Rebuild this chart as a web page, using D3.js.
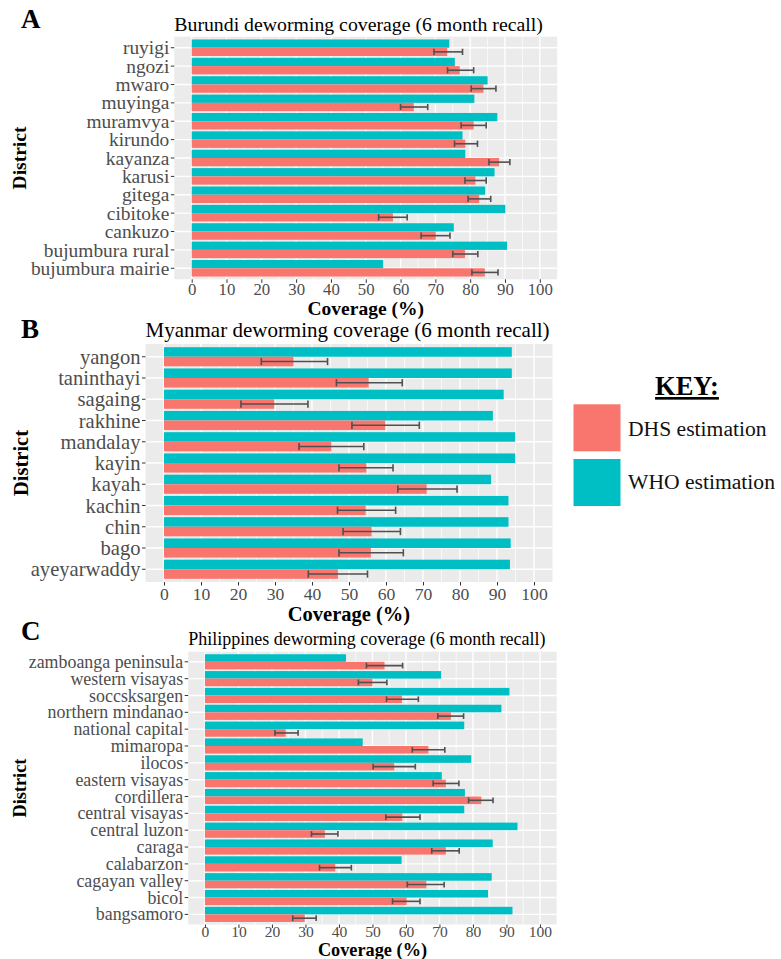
<!DOCTYPE html>
<html>
<head>
<meta charset="utf-8">
<script src="https://cdn.jsdelivr.net/npm/d3@7"></script>
<style>
  body { margin: 0; background: #fff; }
  svg { display: block; }
  text { font-family: "Liberation Serif", "Times New Roman", serif; }
</style>
</head>
<body>
<div id="chart"></div>
<script>
  'use strict';

  // ---- data ----
  var xTicks = [0, 10, 20, 30, 40, 50, 60, 70, 80, 90, 100];
  var seriesNames = ['DHS estimation', 'WHO estimation'];

  var burundiDistricts = ['ruyigi', 'ngozi', 'mwaro', 'muyinga', 'muramvya', 'kirundo', 'kayanza',
    'karusi', 'gitega', 'cibitoke', 'cankuzo', 'bujumbura rural', 'bujumbura mairie'];
  var burundiWHO = [74.0, 75.6, 85.0, 81.2, 87.8, 77.8, 78.6, 87.0, 84.3, 90.1, 75.3, 90.6, 55.0];
  var burundiDHS = [73.4, 77.0, 83.8, 63.8, 81.0, 78.6, 88.3, 81.5, 82.6, 57.8, 70.1, 78.5, 84.2];
  var burundiLow = [69.6, 73.5, 80.3, 60.0, 77.4, 75.5, 85.4, 78.5, 79.4, 53.7, 65.9, 75.0, 80.5];
  var burundiHigh = [77.8, 81.0, 87.4, 67.8, 84.6, 82.1, 91.4, 84.6, 85.9, 61.9, 74.2, 82.2, 88.0];

  var myanmarDistricts = ['yangon', 'taninthayi', 'sagaing', 'rakhine', 'mandalay', 'kayin', 'kayah',
    'kachin', 'chin', 'bago', 'ayeyarwaddy'];
  var myanmarWHO = [94.0, 94.0, 91.8, 88.9, 94.9, 94.9, 88.4, 93.1, 93.1, 93.7, 93.5];
  var myanmarDHS = [35.0, 55.3, 29.8, 59.8, 45.2, 54.7, 71.0, 54.5, 56.1, 55.9, 47.0];
  var myanmarLow = [26.3, 46.6, 20.8, 50.8, 36.5, 47.3, 63.2, 46.9, 48.4, 47.3, 39.0];
  var myanmarHigh = [44.2, 64.4, 38.9, 69.0, 54.0, 61.9, 79.2, 62.6, 63.9, 64.7, 55.0];

  var philippinesDistricts = ['zamboanga peninsula', 'western visayas', 'soccsksargen', 'northern mindanao',
    'national capital', 'mimaropa', 'ilocos', 'eastern visayas', 'cordillera', 'central visayas',
    'central luzon', 'caraga', 'calabarzon', 'cagayan valley', 'bicol', 'bangsamoro'];
  var philippinesWHO = [42.1, 70.5, 90.9, 88.5, 77.4, 47.1, 79.5, 70.7, 77.6, 77.4, 93.3, 85.9, 58.7, 85.6, 84.5, 91.8];
  var philippinesDHS = [53.6, 50.0, 58.8, 73.4, 24.1, 66.7, 56.5, 71.9, 82.5, 58.9, 35.8, 71.9, 38.9, 66.1, 60.2, 29.8];
  var philippinesLow = [48.2, 45.8, 54.2, 69.5, 20.9, 61.9, 50.2, 68.1, 78.7, 54.0, 31.8, 67.7, 34.2, 60.4, 56.0, 26.2];
  var philippinesHigh = [59.0, 54.3, 63.7, 77.2, 27.8, 71.6, 62.8, 75.8, 86.0, 64.2, 39.7, 75.9, 43.7, 71.4, 64.2, 33.2];

  // ---- layout ----
  var width = 781, height = 959;
  var colors = {dhs: '#F8766D', who: '#00BFC4'};

  var panels = [
    {letter: 'A', title: 'Burundi deworming coverage (6 month recall)',
      districts: burundiDistricts, who: burundiWHO, dhs: burundiDHS, low: burundiLow, high: burundiHigh,
      left: 174.3, right: 557.2, top: 36.7, bottom: 279.3,
      letterY: 28, titleY: 31, tickY: 295, axisTitleY: 314.5, districtX: 26,
      labelSize: 19.4, tickSize: 16.8, titleSize: 19.8, axisSize: 19.5},
    {letter: 'B', title: 'Myanmar deworming coverage (6 month recall)',
      districts: myanmarDistricts, who: myanmarWHO, dhs: myanmarDHS, low: myanmarLow, high: myanmarHigh,
      left: 145.5, right: 552.5, top: 344, bottom: 582,
      letterY: 338, titleY: 337, tickY: 599.5, axisTitleY: 620.5, districtX: 28,
      labelSize: 20.6, tickSize: 17.6, titleSize: 21, axisSize: 20.5},
    {letter: 'C', title: 'Philippines deworming coverage (6 month recall)',
      districts: philippinesDistricts, who: philippinesWHO, dhs: philippinesDHS, low: philippinesLow, high: philippinesHigh,
      left: 188.2, right: 556.7, top: 651.7, bottom: 924.5,
      letterY: 640, titleY: 645, tickY: 937, axisTitleY: 956, districtX: 26,
      labelSize: 17.9, tickSize: 15.5, titleSize: 18, axisSize: 18.3}
  ];

  var svg = d3.select('#chart')
    .append('svg')
    .attr('width', width)
    .attr('height', height);

  panels.forEach(function (p) {
    var g = svg.append('g');

    var x = d3.scaleLinear()
      .domain([-5, 105])
      .range([p.left, p.right]);

    // ggplot discrete scale: 0.6 expansion on each side, bars 0.9 wide
    var y = d3.scaleBand()
      .domain(p.districts)
      .range([p.top, p.bottom])
      .paddingInner(0.1)
      .paddingOuter(0.15);

    var sub = d3.scaleBand()
      .domain(['who', 'dhs'])
      .range([0, y.bandwidth()]);

    var rows = p.districts.map(function (d, i) {
      return {name: d, who: p.who[i], dhs: p.dhs[i], low: p.low[i], high: p.high[i]};
    });

    g.append('text')
      .attr('x', 21)
      .attr('y', p.letterY)
      .attr('font-size', 27)
      .attr('font-weight', 'bold')
      .text(p.letter);

    g.append('text')
      .attr('x', p.left)
      .attr('y', p.titleY)
      .attr('font-size', p.titleSize)
      .attr('fill', '#000')
      .text(p.title);

    g.append('rect')
      .attr('x', p.left)
      .attr('y', p.top)
      .attr('width', p.right - p.left)
      .attr('height', p.bottom - p.top)
      .attr('fill', '#EBEBEB');

    var minor = d3.range(5, 100, 10);
    g.selectAll('.minor')
      .data(minor)
      .enter()
      .append('line')
      .attr('x1', function (d) { return x(d); })
      .attr('x2', function (d) { return x(d); })
      .attr('y1', p.top)
      .attr('y2', p.bottom)
      .attr('stroke', '#fff')
      .attr('stroke-width', 0.7);

    g.selectAll('.major')
      .data(xTicks)
      .enter()
      .append('line')
      .attr('x1', function (d) { return x(d); })
      .attr('x2', function (d) { return x(d); })
      .attr('y1', p.top)
      .attr('y2', p.bottom)
      .attr('stroke', '#fff')
      .attr('stroke-width', 1.4);

    g.selectAll('.hgrid')
      .data(p.districts)
      .enter()
      .append('line')
      .attr('x1', p.left)
      .attr('x2', p.right)
      .attr('y1', function (d) { return y(d) + y.bandwidth() / 2; })
      .attr('y2', function (d) { return y(d) + y.bandwidth() / 2; })
      .attr('stroke', '#fff')
      .attr('stroke-width', 1.4);

    var row = g.selectAll('.row')
      .data(rows)
      .enter()
      .append('g')
      .attr('transform', function (d) { return 'translate(0,' + y(d.name) + ')'; });

    row.append('rect')
      .attr('x', x(0))
      .attr('y', sub('who'))
      .attr('width', function (d) { return x(d.who) - x(0); })
      .attr('height', sub.bandwidth())
      .attr('fill', colors.who);

    row.append('rect')
      .attr('x', x(0))
      .attr('y', sub('dhs'))
      .attr('width', function (d) { return x(d.dhs) - x(0); })
      .attr('height', sub.bandwidth())
      .attr('fill', colors.dhs);

    var ey = sub('dhs') + sub.bandwidth() / 2,
      cap = sub.bandwidth() * 0.38;

    row.append('line')
      .attr('x1', function (d) { return x(d.low); })
      .attr('x2', function (d) { return x(d.high); })
      .attr('y1', ey)
      .attr('y2', ey)
      .attr('stroke', '#505050')
      .attr('stroke-width', 1.6);

    row.append('line')
      .attr('x1', function (d) { return x(d.low); })
      .attr('x2', function (d) { return x(d.low); })
      .attr('y1', ey - cap)
      .attr('y2', ey + cap)
      .attr('stroke', '#505050')
      .attr('stroke-width', 1.6);

    row.append('line')
      .attr('x1', function (d) { return x(d.high); })
      .attr('x2', function (d) { return x(d.high); })
      .attr('y1', ey - cap)
      .attr('y2', ey + cap)
      .attr('stroke', '#505050')
      .attr('stroke-width', 1.6);

    // axes
    var yAxis = g.append('g')
      .attr('transform', 'translate(' + p.left + ',0)')
      .call(d3.axisLeft(y).tickSize(3.5).tickPadding(1.5));
    yAxis.select('.domain').remove();
    yAxis.selectAll('.tick line').attr('stroke', '#333');
    yAxis.selectAll('.tick text')
      .attr('font-size', p.labelSize)
      .attr('fill', '#4D4D4D')
      .attr('dy', '0.34em')
      .style('font-family', '"Liberation Serif", "Times New Roman", serif');

    var xAxis = g.append('g')
      .attr('transform', 'translate(0,' + p.bottom + ')')
      .call(d3.axisBottom(x).tickValues(xTicks).tickSize(3.5).tickPadding(0));
    xAxis.select('.domain').remove();
    xAxis.selectAll('.tick line').attr('stroke', '#333');
    xAxis.selectAll('.tick text')
      .attr('font-size', p.tickSize)
      .attr('fill', '#4D4D4D')
      .attr('y', p.tickY - p.bottom)
      .attr('dy', 0)
      .style('font-family', '"Liberation Serif", "Times New Roman", serif');

    g.append('text')
      .attr('x', (p.left + p.right) / 2)
      .attr('y', p.axisTitleY)
      .attr('text-anchor', 'middle')
      .attr('font-size', p.axisSize)
      .attr('font-weight', 'bold')
      .text('Coverage (%)');

    g.append('text')
      .attr('transform', 'translate(' + p.districtX + ',' + (p.top + p.bottom) / 2 + ') rotate(-90)')
      .attr('text-anchor', 'middle')
      .attr('font-size', p.axisSize)
      .attr('font-weight', 'bold')
      .text('District');
  });

  // ---- key ----
  var key = svg.append('g');

  key.append('text')
    .attr('x', 687)
    .attr('y', 395)
    .attr('text-anchor', 'middle')
    .attr('font-size', 26.5)
    .attr('font-weight', 'bold')
    .attr('text-decoration', 'underline')
    .text('KEY:');

  key.selectAll('.swatch')
    .data(seriesNames)
    .enter()
    .append('rect')
    .attr('x', 573.5)
    .attr('y', function (d, i) { return 404.3 + i * 54.7; })
    .attr('width', 47)
    .attr('height', 47)
    .attr('fill', function (d, i) { return i === 0 ? colors.dhs : colors.who; });

  key.selectAll('.label')
    .data(seriesNames)
    .enter()
    .append('text')
    .attr('x', 628)
    .attr('y', function (d, i) { return 435.5 + i * 53.5; })
    .attr('font-size', 21.6)
    .attr('fill', '#111')
    .text(function (d) { return d; });
</script>
</body>
</html>
